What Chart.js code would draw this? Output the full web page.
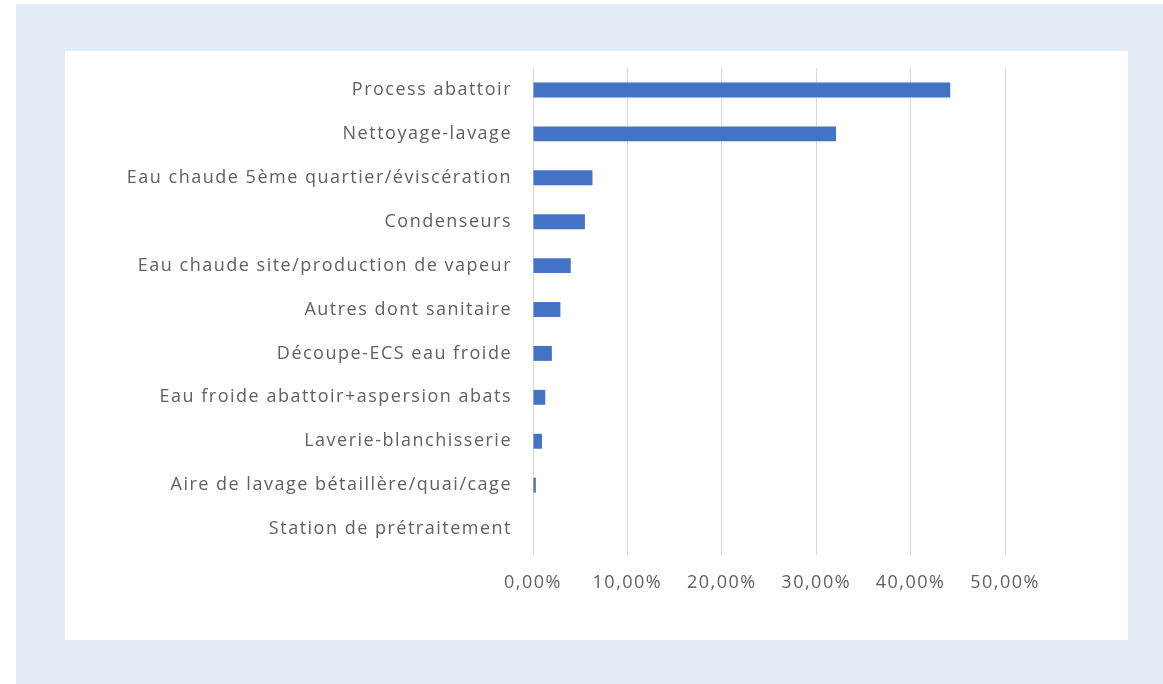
<!DOCTYPE html>
<html lang="fr">
<head>
    <meta charset="UTF-8">
    <title>Consommation d'eau par poste</title>
    <script src="https://cdn.jsdelivr.net/npm/chart.js"></script>
    <style>
        html, body { margin: 0; padding: 0; background: #ffffff; }
        #frame {
            position: absolute;
            left: 16px; top: 4px; right: 0; bottom: 0;
            background-color: #e3ecf6;
        }
        #panel {
            position: absolute;
            left: 65px; top: 51px;
            width: 1063px; height: 589px;
            background-color: #ffffff;
        }
    </style>
</head>
<body>
    <div id="frame"></div>
    <div id="panel"><canvas id="waterChart"></canvas></div>

    <script>
        // postes de consommation (du plus grand au plus petit)
        const categories = [
            'Process abattoir',
            'Nettoyage-lavage',
            'Eau chaude 5ème quartier/éviscération',
            'Condenseurs',
            'Eau chaude site/production de vapeur',
            'Autres dont sanitaire',
            'Découpe-ECS eau froide',
            'Eau froide abattoir+aspersion abats',
            'Laverie-blanchisserie',
            'Aire de lavage bétaillère/quai/cage',
            'Station de prétraitement'
        ];
        // part en %
        const shares = [44.2, 32.1, 6.3, 5.5, 4.0, 2.9, 2.0, 1.3, 0.95, 0.3, 0.05];
        const xTicks = [0, 10, 20, 30, 40, 50];

        const textColor = '#606060';
        const fontFamily = "'Open Sans', sans-serif";

        // the labels in the original are quite widely spaced
        const spacingPlugin = {
            id: 'letterSpacing',
            beforeLayout: chart => { chart.ctx.letterSpacing = '1.5px'; },
            beforeDraw: chart => { chart.ctx.letterSpacing = '1.5px'; }
        };

        const ctx = document.getElementById('waterChart').getContext('2d');
        const chart = new Chart(ctx, {
            type: 'bar',
            data: {
                labels: categories,
                datasets: [{
                    data: shares,
                    backgroundColor: '#4472c4',
                    categoryPercentage: 1,
                    barPercentage: 0.34
                }]
            },
            plugins: [spacingPlugin],
            options: {
                indexAxis: 'y',
                responsive: true,
                maintainAspectRatio: false,
                animation: false,
                layout: {
                    padding: { top: 17, right: 123, bottom: 0, left: 0 }
                },
                plugins: {
                    legend: { display: false },
                    tooltip: { enabled: false }
                },
                scales: {
                    x: {
                        min: xTicks[0],
                        max: xTicks[xTicks.length - 1],
                        afterBuildTicks: axis => {
                            axis.ticks = xTicks.map(v => ({ value: v }));
                        },
                        afterFit: scale => { scale.height = 89; },
                        grid: {
                            color: '#d9d9d9',
                            lineWidth: 1,
                            drawTicks: true,
                            tickLength: 4
                        },
                        border: { display: false },
                        ticks: {
                            color: textColor,
                            padding: 17,
                            maxRotation: 0,
                            font: { family: fontFamily, size: 18 },
                            callback: value => value.toFixed(2).replace('.', ',') + '%'
                        }
                    },
                    y: {
                        grid: { display: false, drawTicks: false },
                        border: { display: false },
                        afterFit: scale => {
                            scale.width = 468;
                            scale.paddingTop = 0;
                            scale.paddingBottom = 0;
                        },
                        ticks: {
                            color: textColor,
                            padding: 21,
                            font: { family: fontFamily, size: 18 }
                        }
                    }
                }
            }
        });
    </script>
</body>
</html>
